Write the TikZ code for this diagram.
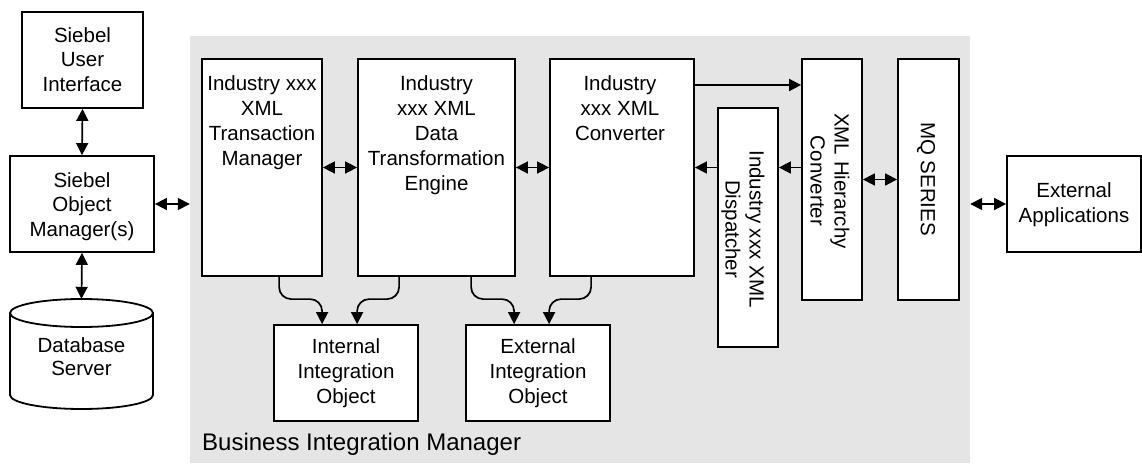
\documentclass[tikz,border=0pt]{standalone}
\usepackage{fontspec}
\setmainfont{Liberation Sans}
\usetikzlibrary{arrows.meta}
\definecolor{bimgray}{RGB}{229,229,229}
\begin{document}
\begin{tikzpicture}[x=1pt,y=-1pt,
  box/.style={draw, fill=white, line width=1.8pt, inner sep=0pt},
  txt/.style={font=\fontsize{20.5}{25}\selectfont, align=center, inner sep=0pt, anchor=north},
  ltxt/.style={font=\fontsize{20.5}{24.5}\selectfont, align=center, inner sep=0pt, anchor=north},
  rtxt/.style={font=\fontsize{20.5}{24}\selectfont, align=center, inner sep=0pt, rotate=-90},
  link/.style={line width=1.7pt, -{Triangle[length=12pt,width=12pt]}},
  both/.style={line width=1.7pt, {Triangle[length=12pt,width=12pt]}-{Triangle[length=12pt,width=12pt]}},
  cyl/.style={line width=1.8pt, fill=white}]
\useasboundingbox (0,0) rectangle (1142,463);
% Business Integration Manager area
\node[fill=bimgray, inner sep=0pt, minimum width=780pt, minimum height=427pt] (bim) at (580,249.5) {};
\node[font=\fontsize{24}{28}\selectfont, anchor=base west, inner sep=0pt] (bimt) at (202,450) {Business Integration Manager};
% left column
\node[box, minimum width=121pt, minimum height=96pt] (ui) at (82.5,60) {};
\node[ltxt] (uit) at (82.5,27.3) {Siebel\\User\\Interface};
\node[box, minimum width=144pt, minimum height=96pt] (om) at (82,204) {};
\node[ltxt] (omt) at (82,172.3) {Siebel\\Object\\Manager(s)};
\node[inner sep=0pt, minimum width=143pt, minimum height=110pt] (db) at (81.5,354) {};
\draw[cyl] (10,313) -- (10,395) arc[start angle=180, end angle=360, x radius=71.5pt, y radius=14pt]
  -- (153,313) arc[start angle=0, end angle=180, x radius=71.5pt, y radius=14pt] -- cycle;
\draw[line width=1.8pt] (10,313) arc[start angle=180, end angle=360, x radius=71.5pt, y radius=14pt];
\node[font=\fontsize{20.5}{23}\selectfont, align=center, inner sep=0pt, anchor=north] (dbt) at (81.5,337.3) {Database\\Server};
% main boxes
\node[box, minimum width=120pt, minimum height=217pt] (tm) at (262,167.5) {};
\node[txt] (tmt) at (262,75.3) {Industry xxx\\XML\\Transaction\\Manager};
\node[box, minimum width=157pt, minimum height=217pt] (dte) at (436.5,167.5) {};
\node[txt] (dtet) at (436.5,75.3) {Industry\\xxx XML\\Data\\Transformation\\Engine};
\node[box, minimum width=144pt, minimum height=217pt] (conv) at (622,167.5) {};
\node[txt] (convt) at (620,75.3) {Industry\\xxx XML\\Converter};
\node[box, minimum width=60pt, minimum height=239pt] (disp) at (748,227.5) {};
\node[rtxt] (dispt) at (743,229) {Industry xxx XML\\Dispatcher};
\node[box, minimum width=60pt, minimum height=241pt] (xhc) at (832,179.5) {};
\node[rtxt] (xhct) at (830,181) {XML Hierarchy\\Converter};
\node[box, minimum width=61pt, minimum height=241pt] (mq) at (928.5,179.5) {};
\node[rtxt] (mqt) at (926,179) {MQ SERIES};
\node[box, minimum width=134pt, minimum height=96pt] (ext) at (1074,204) {};
\node[txt] (extt) at (1074,182.3) {External\\Applications};
\node[box, minimum width=144pt, minimum height=96pt] (iio) at (346,373) {};
\node[txt] (iiot) at (346,338.3) {Internal\\Integration\\Object};
\node[box, minimum width=144pt, minimum height=96pt] (eio) at (538,373) {};
\node[txt] (eiot) at (538,338.3) {External\\Integration\\Object};
\coordinate (c85) at (700,85);
% connectors
\draw[both] (ui.south) -- (om.north);
\draw[both] (om.south) -- (db.north);
\draw[both] (om.east) -- (om.east -| bim.west);
\draw[both] (tm.east) -- (dte.west);
\draw[both] (dte.east) -- (conv.west);
\draw[link] (conv.east |- c85) -- (xhc.west |- c85);
\draw[link] (xhc.west |- conv.east) -- (disp.east |- conv.east);
\draw[link] (disp.west |- conv.east) -- (conv.east);
\draw[both] (xhc.east) -- (mq.west);
\draw[both] (bim.east |- ext.west) -- (ext.west);
\draw[link, rounded corners=12pt] ([xshift=78pt]tm.south west) |- ([xshift=49pt,yshift=25pt]iio.north west) -- ([xshift=49pt]iio.north west);
\draw[link, rounded corners=12pt] ([xshift=42pt]dte.south west) |- ([xshift=84pt,yshift=25pt]iio.north west) -- ([xshift=84pt]iio.north west);
\draw[link, rounded corners=12pt] ([xshift=114pt]dte.south west) |- ([xshift=49pt,yshift=25pt]eio.north west) -- ([xshift=49pt]eio.north west);
\draw[link, rounded corners=12pt] ([xshift=42pt]conv.south west) |- ([xshift=84pt,yshift=25pt]eio.north west) -- ([xshift=84pt]eio.north west);
\end{tikzpicture}
\end{document}
